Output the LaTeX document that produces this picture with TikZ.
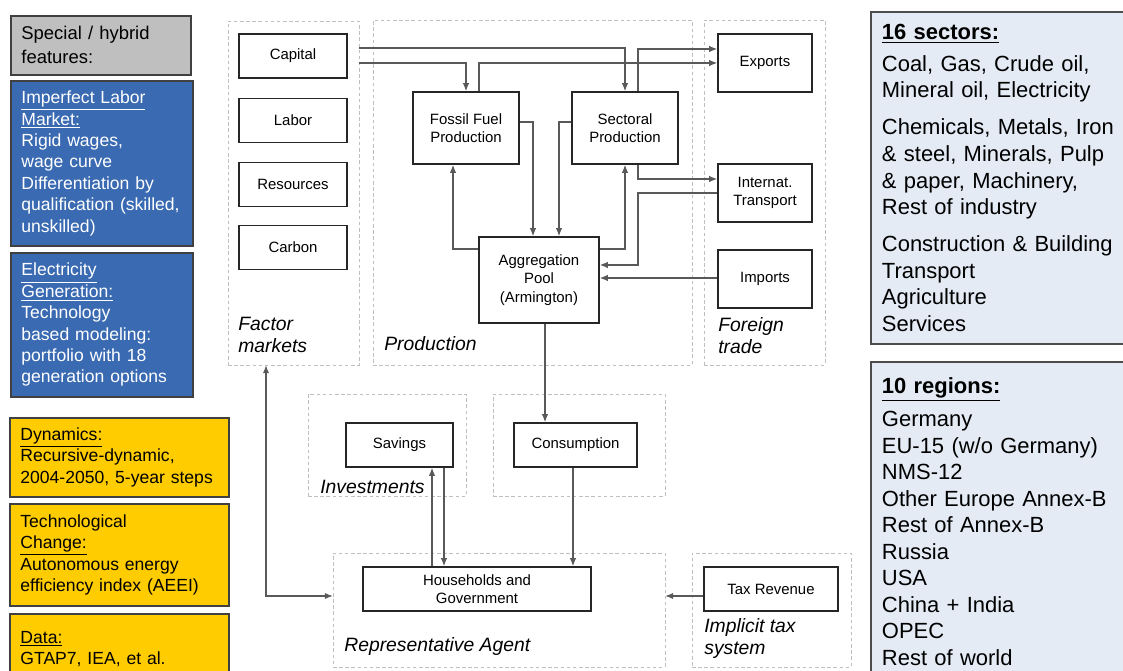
\documentclass[tikz,border=0pt]{standalone}
\usepackage{fontspec}
\setmainfont{Liberation Sans}
\usetikzlibrary{arrows.meta}

\definecolor{featgray}{RGB}{191,191,191}
\definecolor{featblue}{RGB}{58,106,178}
\definecolor{featyellow}{RGB}{255,204,0}
\definecolor{listblue}{RGB}{228,235,245}

\tikzset{
  region/.style={shape=rectangle,draw=black!25,dash pattern=on 2pt off 1.5pt,line width=0.4pt},
  box/.style={shape=rectangle,draw=black!85,line width=1pt,fill=white,align=center,
    font=\fontsize{8.5}{10.4}\selectfont,minimum width=2.16cm,minimum height=0.88cm,inner sep=1pt},
  areatext/.style={font=\fontsize{11}{12.5}\selectfont\itshape,inner sep=0pt,align=left},
  conn/.style={draw=black!65,line width=0.6pt},
  feature/.style={shape=rectangle,draw=black!75,line width=1pt,anchor=north west,align=left,
    inner xsep=6pt,inner ysep=5pt,font=\fontsize{10}{12.2}\selectfont},
  listbox/.style={shape=rectangle,draw=black!70,line width=1pt,fill=listblue,anchor=north west,
    align=left,inner xsep=6.3pt,inner ysep=6pt,text width=4.78cm,font=\fontsize{12.5}{15.1}\selectfont}
}

\begin{document}
\begin{tikzpicture}[x=0.02cm,y=-0.02cm,>={Latex[length=4.5pt,width=3.6pt]}]
        \useasboundingbox (0,0) rectangle (1123,671);
        % dashed areas
        \node[region,minimum width=2.62cm,minimum height=6.88cm] (15) at (293.5,193) {};
        \node[region,minimum width=6.38cm,minimum height=6.9cm] (16) at (532.5,192.5) {};
        \node[region,minimum width=2.42cm,minimum height=6.9cm] (17) at (764.5,192.5) {};
        \node[region,minimum width=3.16cm,minimum height=2.04cm] (18) at (387,445) {};
        \node[region,minimum width=3.44cm,minimum height=2.04cm] (19) at (579,445) {};
        \node[region,minimum width=6.64cm,minimum height=2.28cm] (20) at (499,610) {};
        \node[region,minimum width=3.18cm,minimum height=2.28cm] (21) at (771.5,610) {};
        \node[areatext,anchor=north west] (22) at (238,317) {Factor\\markets};
        \node[areatext,anchor=west] (23) at (384,344) {Production};
        \node[areatext,anchor=north west] (24) at (718,317) {Foreign\\trade};
        \node[areatext,anchor=west] (25) at (320,487) {Investments};
        \node[areatext,anchor=west] (26) at (344,647) {Representative Agent};
        \node[areatext,anchor=north west] (27) at (704,618) {Implicit tax\\system};

        % boxes
        \node[box] (1) at (293,56) {Capital};
        \node[box] (2) at (293,120.5) {Labor};
        \node[box] (3) at (293,184.5) {Resources};
        \node[box] (4) at (293,247.5) {Carbon};
        \node[box,minimum width=2.12cm,minimum height=1.44cm] (5) at (466,128) {Fossil Fuel\\Production};
        \node[box,minimum width=2.12cm,minimum height=1.44cm] (6) at (625,128) {Sectoral\\Production};
        \node[box,minimum width=2.4cm,minimum height=1.72cm] (7) at (539,280) {Aggregation\\Pool\\(Armington)};
        \node[box,minimum width=1.88cm,minimum height=1.16cm] (8) at (765,63) {Exports};
        \node[box,minimum width=1.88cm,minimum height=1.16cm] (9) at (765,193) {Internat.\\Transport};
        \node[box,minimum width=1.88cm,minimum height=1.16cm] (10) at (765,279) {Imports};
        \node[box,minimum width=2.14cm] (11) at (399.5,445) {Savings};
        \node[box,minimum width=2.46cm] (12) at (575.5,445) {Consumption};
        \node[box,minimum width=4.56cm] (13) at (477,589) {Households and\\Government};
        \node[box,minimum width=2.68cm] (14) at (771,589) {Tax Revenue};

        % flows
        \draw[conn,->] (15.east |- 0,48) -| (6.north);
        \draw[conn,->] (15.east |- 0,63) -| (5.north);
        \draw[conn,->] (5.north -| 479,0) |- (8.west |- 0,63);
        \draw[conn,->] (6.north -| 638,0) |- (8.west |- 0,49);
        \draw[conn,->] (5.east |- 0,122) -| (7.north -| 533,0);
        \draw[conn,->] (6.west |- 0,122) -| (7.north -| 559,0);
        \draw[conn,->] (7.west |- 0,249) -| (5.south -| 453,0);
        \draw[conn,->] (7.east |- 0,249) -| (6.south);
        \draw[conn,->] (6.south -| 638,0) |- (9.west |- 0,179);
        \draw[conn,->] (9.west |- 0,193) -| (638,265) -- (7.east |- 0,265);
        \path [->] (10.west |- 0,278) edge[conn] (7.east |- 0,278);
        \path [->] (7.south -| 545,0) edge[conn] (12.north -| 545,0);
        \path [->] (13.north -| 432,0) edge[conn] (11.south -| 432,0);
        \path [->] (11.south -| 444,0) edge[conn] (13.north -| 444,0);
        \path [->] (12.south -| 573,0) edge[conn] (13.north -| 573,0);
        \path [->] (14.west |- 0,596) edge[conn] (20.east |- 0,596);
        \draw[conn,<->] (15.south -| 266,0) |- (20.west |- 0,596);

        % feature panels
        \node[feature,fill=featgray,text width=3.18cm,minimum height=1.18cm,
          font=\fontsize{10.5}{13.7}\selectfont] (28) at (10,15) {Special / hybrid\\features:};
        \node[feature,fill=featblue,text=white,text width=3.22cm,minimum height=3.3cm] (29) at (10,80)
          {\underline{Imperfect Labor}\\\underline{Market:}\\Rigid wages,\\wage curve\\Differentiation by\\qualification (skilled,\\unskilled)};
        \node[feature,fill=featblue,text=white,text width=3.22cm,minimum height=2.88cm] (30) at (10,252)
          {\underline{Electricity}\\\underline{Generation:}\\Technology\\based modeling:\\portfolio with 18\\generation options};
        \node[feature,fill=featyellow,text width=3.96cm,minimum height=1.58cm] (31) at (9,417)
          {\underline{Dynamics:}\\Recursive-dynamic,\\2004-2050, 5-year steps};
        \node[feature,fill=featyellow,text width=3.96cm,minimum height=2.04cm] (32) at (9,503)
          {Technological\\\underline{Change:}\\Autonomous energy\\efficiency index (AEEI)};
        \node[feature,fill=featyellow,text width=3.96cm,minimum height=1.4cm] (33) at (9,613)
          {\underline{Data:}\\GTAP7, IEA, et al.};

        % lists
        \node[listbox,minimum height=6.64cm] (34) at (870,11)
          {\textbf{\underline{16 sectors:}}\\[3pt]Coal, Gas, Crude oil,\\Mineral oil, Electricity\\[6pt]
           Chemicals, Metals, Iron\\\& steel, Minerals, Pulp\\\& paper, Machinery,\\Rest of industry\\[6pt]
           Construction \& Building\\Transport\\Agriculture\\Services};
        \node[listbox,minimum height=6.38cm] (35) at (870,361)
          {\textbf{\underline{10 regions:}}\\[4pt]Germany\\EU-15 (w/o Germany)\\NMS-12\\Other Europe Annex-B\\
           Rest of Annex-B\\Russia\\USA\\China + India\\OPEC\\Rest of world};

        \end{tikzpicture}
\end{document}
